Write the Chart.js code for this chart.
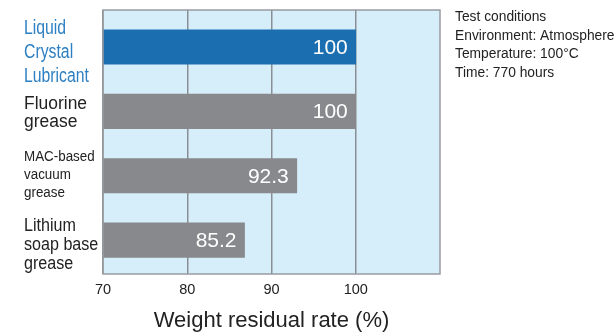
<!DOCTYPE html>
<html>
<head>
<meta charset="utf-8">
<script src="https://cdn.jsdelivr.net/npm/chart.js@4.4.1/dist/chart.umd.min.js"></script>
<style>
  html, body { margin: 0; padding: 0; background: #ffffff; }
  canvas { display: block; }
</style>
</head>
<body>
<canvas id="c" width="616" height="336"></canvas>
<script>
// ---- data ----
const categories = [
  ["Liquid", "Crystal", "Lubricant"],
  ["Fluorine", "grease"],
  ["MAC-based", "vacuum", "grease"],
  ["Lithium", "soap base", "grease"]
];
const values = [100, 100, 93.0, 86.8];               // bar lengths as drawn
const valueLabels = ["100", "100", "92.3", "85.2"];  // printed numbers
const xTicks = [70, 80, 90, 100];
const xTitle = "Weight residual rate (%)";
const notes = ["Test conditions", "Environment: Atmosphere", "Temperature: 100°C", "Time: 770 hours"];

// ---- styles ----
const BLUE = '#1b6fb1';
const GRAY = '#88898d';
const BG = '#d6edfa';
const GRID = '#8a8f94';
const TEXT = '#222222';
const LABEL_BLUE = '#2d80c3';
const SANS = '"Liberation Sans", Arial, Helvetica, sans-serif';

// per-category label style: font size, horizontal squeeze, line height, shift of block centre vs bar centre
const labelStyles = [
  { size: 19.5, sx: 0.81, lh: 23.8, shift: 3.7, color: LABEL_BLUE },
  { size: 18,   sx: 0.97, lh: 18,   shift: 0.5, color: TEXT },
  { size: 15.3, sx: 0.875, lh: 18.3, shift: -2.5, color: TEXT },
  { size: 17.5, sx: 0.92, lh: 18.8, shift: 3.5, color: TEXT }
];

const decorPlugin = {
  id: 'decor',
  beforeDraw(chart) {
    const { ctx, chartArea: a } = chart;
    ctx.save();
    ctx.fillStyle = BG;
    ctx.fillRect(a.left, a.top, a.right - a.left, a.bottom - a.top);
    ctx.restore();
  },
  afterDatasetsDraw(chart) {
    const { ctx, chartArea: a } = chart;
    const yScale = chart.scales.y;
    ctx.save();
    ctx.strokeStyle = '#979ba0';
    ctx.lineWidth = 1.5;
    ctx.strokeRect(a.left, a.top, a.right - a.left, a.bottom - a.top);

    // value labels inside bars
    const meta = chart.getDatasetMeta(0);
    ctx.fillStyle = '#ffffff';
    ctx.font = '21px ' + SANS;
    ctx.textAlign = 'right';
    ctx.textBaseline = 'middle';
    meta.data.forEach((bar, i) => {
      ctx.fillText(valueLabels[i], bar.x - 8, bar.y + 1);
    });

    // category labels (left of the axis)
    ctx.textAlign = 'left';
    ctx.textBaseline = 'alphabetic';
    categories.forEach((lines, i) => {
      const st = labelStyles[i];
      const centre = yScale.getPixelForValue(i) + st.shift;
      ctx.fillStyle = st.color;
      ctx.font = st.size + 'px ' + SANS;
      lines.forEach((t, j) => {
        const base = centre + (j - (lines.length - 1) / 2) * st.lh + 0.36 * st.size;
        ctx.save();
        ctx.translate(yScale.left, base);
        ctx.scale(st.sx, 1);
        ctx.fillText(t, 0, 0);
        ctx.restore();
      });
    });

    // test-condition notes
    ctx.fillStyle = TEXT;
    ctx.font = '13.8px ' + SANS;
    ctx.textAlign = 'left';
    ctx.textBaseline = 'middle';
    notes.forEach((t, i) => ctx.fillText(t, 455, 17 + i * 18.7));
    ctx.restore();
  }
};

new Chart(document.getElementById('c'), {
  type: 'bar',
  data: {
    datasets: [{
      data: values.map((v, i) => ({ x: v, y: i })),
      backgroundColor: values.map((v, i) => i === 0 ? BLUE : GRAY),
      borderWidth: 0,
      barThickness: 34.5
    }]
  },
  options: {
    indexAxis: 'y',
    responsive: false,
    devicePixelRatio: 1,
    animation: false,
    layout: { padding: { left: 24, top: 10, right: 176, bottom: 0 } },
    plugins: { legend: { display: false }, tooltip: { enabled: false }, title: { display: false } },
    scales: {
      x: {
        type: 'linear',
        min: 70,
        max: 110,
        afterBuildTicks(scale) { scale.ticks = xTicks.map(v => ({ value: v })); },
        afterFit(scale) { scale.height = 62; scale.paddingLeft = 0; scale.paddingRight = 0; },
        grid: { color: GRID, lineWidth: 1.5, drawTicks: false },
        border: { display: false },
        ticks: { color: TEXT, font: { family: SANS, size: 14.5 }, padding: 7 },
        title: {
          display: true,
          text: xTitle,
          color: TEXT,
          font: { family: SANS, size: 22 },
          padding: { top: 0, bottom: 2 }
        }
      },
      y: {
        type: 'linear',
        reverse: true,
        offset: false,
        min: -0.5745,
        max: 3.525,
        afterBuildTicks(scale) { scale.ticks = categories.map((c, i) => ({ value: i })).reverse(); },
        afterFit(scale) { scale.width = 79; scale.paddingTop = 0; scale.paddingBottom = 0; },
        grid: { display: false, offset: false },
        border: { display: false },
        ticks: { display: false }
      }
    }
  },
  plugins: [decorPlugin]
});
</script>
</body>
</html>
